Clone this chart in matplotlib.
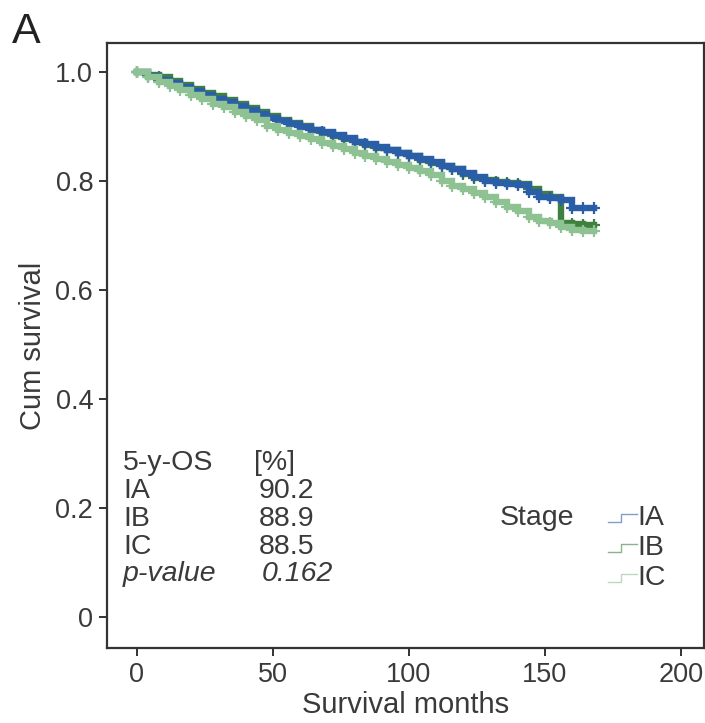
import matplotlib
matplotlib.use("Agg")
import matplotlib.pyplot as plt
from matplotlib.lines import Line2D

plt.rcParams['font.family'] = ['Liberation Sans', 'DejaVu Sans']

# Kaplan-Meier estimates by stage (months, cumulative survival)
months = [0, 4, 8, 12, 16, 20, 24, 28, 32, 36, 40, 44, 48, 52, 56, 60, 64,
          68, 72, 76, 80, 84, 88, 92, 96, 100, 104, 108, 112, 116, 120, 124,
          128, 132, 136, 140, 144, 148, 152, 156, 160, 164, 168]
surv_IA = [1.000, 0.993, 0.986, 0.979, 0.972, 0.965, 0.958, 0.951, 0.944,
           0.937, 0.930, 0.923, 0.916, 0.910, 0.905, 0.899, 0.894, 0.889,
           0.884, 0.878, 0.872, 0.867, 0.862, 0.857, 0.852, 0.846, 0.840,
           0.834, 0.828, 0.822, 0.815, 0.808, 0.800, 0.796, 0.794, 0.792,
           0.780, 0.771, 0.769, 0.765, 0.751, 0.750, 0.750]
surv_IB = [1.000, 0.995, 0.990, 0.983, 0.976, 0.969, 0.962, 0.955, 0.948,
           0.941, 0.934, 0.927, 0.920, 0.912, 0.906, 0.900, 0.894, 0.888,
           0.883, 0.877, 0.871, 0.866, 0.861, 0.856, 0.851, 0.845, 0.839,
           0.833, 0.827, 0.821, 0.813, 0.806, 0.801, 0.798, 0.797, 0.794,
           0.786, 0.776, 0.770, 0.722, 0.721, 0.720, 0.720]
surv_IC = [1.000, 0.991, 0.982, 0.974, 0.966, 0.958, 0.950, 0.942, 0.935,
           0.927, 0.920, 0.911, 0.900, 0.893, 0.888, 0.882, 0.876, 0.870,
           0.864, 0.858, 0.852, 0.846, 0.840, 0.835, 0.830, 0.824, 0.818,
           0.810, 0.800, 0.791, 0.785, 0.778, 0.770, 0.761, 0.753, 0.744,
           0.734, 0.727, 0.722, 0.715, 0.710, 0.708, 0.708]

stages = ["IA", "IB", "IC"]
colors = {"IA": "#2a5fa8", "IB": "#3f803f", "IC": "#8fc292"}
curves = {"IA": surv_IA, "IB": surv_IB, "IC": surv_IC}

os5_labels = ["IA", "IB", "IC"]
os5_values = ["90.2", "88.9", "88.5"]
p_value = "0.162"

xticks = [0, 50, 100, 150, 200]
yticks = [0, 0.2, 0.4, 0.6, 0.8, 1.0]
ytick_labels = ["0", "0.2", "0.4", "0.6", "0.8", "1.0"]

fig = plt.figure(figsize=(7.05, 7.23), dpi=100)
ax = fig.add_axes([0.1518, 0.1037, 0.8468, 0.8368])

for st in ["IB", "IA", "IC"]:
    ax.step(months, curves[st], where="post", color=colors[st], lw=4.6,
            solid_joinstyle="miter", zorder=2)
    ax.plot(months, curves[st], ls="none", marker="+", ms=9, mew=1.6,
            color=colors[st], zorder=2)

ax.set_xlim(-11, 208.5)
ax.set_ylim(-0.057, 1.053)
ax.set_xticks(xticks)
ax.set_yticks(yticks)
ax.set_yticklabels(ytick_labels)

for sp in ax.spines.values():
    sp.set_linewidth(1.6)
    sp.set_color("#333333")
ax.tick_params(direction="out", length=6, width=1.4, color="#333333",
               labelsize=19.5, labelcolor="#3a3a3a", pad=4)
ax.set_xlabel("Survival months", fontsize=21, color="#3a3a3a", labelpad=2)
ax.set_ylabel("Cum survival", fontsize=21, color="#3a3a3a", labelpad=6)

fig.text(0.017, 0.941, "A", fontsize=31, color="#222222")

# 5-year overall survival table
tx = ax.transAxes
fs = 20.5
tc = "#3a3a3a"
col1 = (123 - 107) / 597
col2 = (254 - 107) / 597
colv = (259 - 107) / 597
colp = (262 - 107) / 597
rows_y = [(648 - 463) / 605, (648 - 491) / 605, (648 - 519) / 605,
          (648 - 547) / 605, (648 - 574) / 605]
ax.text(col1, rows_y[0], "5-y-OS", transform=tx, fontsize=fs, color=tc,
        va="center")
ax.text(col2, rows_y[0], "[%]", transform=tx, fontsize=fs, color=tc,
        va="center")
for i, (lab, val) in enumerate(zip(os5_labels, os5_values)):
    ax.text(col1, rows_y[i + 1], lab, transform=tx, fontsize=fs, color=tc,
            va="center")
    ax.text(colv, rows_y[i + 1], val, transform=tx, fontsize=fs,
            color=tc, va="center")
ax.text(col1, rows_y[4], "p-value", transform=tx, fontsize=fs, color=tc,
        va="center", style="italic")
ax.text(colp, rows_y[4], p_value, transform=tx, fontsize=fs, color=tc,
        va="center", style="italic")

# Stage legend with step-shaped keys
leg_y = [(648 - 518) / 605, (648 - 548) / 605, (648 - 578) / 605]
ax.text((500 - 107) / 597, leg_y[0], "Stage", transform=tx, fontsize=fs,
        color=tc, va="center")
x0 = (608 - 107) / 597
x1 = (621 - 107) / 597
x2 = (637 - 107) / 597
for st, yy in zip(stages, leg_y):
    ax.add_line(Line2D([x0, x1, x1, x2], [yy - 0.006, yy - 0.006, yy + 0.006,
                                          yy + 0.006],
                       transform=tx, color=colors[st], lw=1.0, alpha=0.6))
    ax.text(x2 + 0.001, yy, st, transform=tx, fontsize=fs, color=tc,
            va="center")

fig.savefig("out.png", dpi=100)
